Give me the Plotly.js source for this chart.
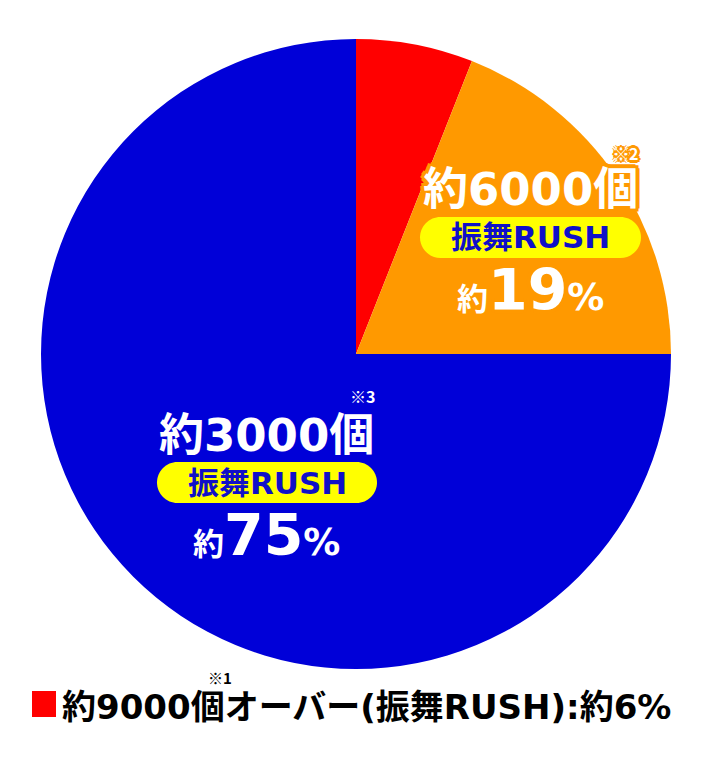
<!DOCTYPE html>
<html>
<head>
<meta charset="utf-8">
<script src="https://cdn.plot.ly/plotly-3.0.1.min.js"></script>
<style>
  html, body { margin: 0; padding: 0; background: #ffffff; }
  #chart { width: 712px; height: 762px; }
</style>
</head>
<body>
<div id="chart"></div>
<script>
// datos del gráfico
const categorias = ['約9000個オーバー(振舞RUSH)', '約6000個 振舞RUSH', '約3000個 振舞RUSH'];
const porcentajes = [6, 19, 75];
const cantidades = [9000, 6000, 3000];
const notas = ['※1', '※2', '※3'];
const modo = '振舞RUSH';
const coloresSector = ['#FF0000', '#FF9900', '#0000D8'];

const W = 712, H = 762;
const px = x => x / W;
const py = y => 1 - y / H;
const FUENTE = 'DejaVu Sans, Noto Sans CJK JP, sans-serif';
const FUENTE_NOTA = 'Noto Sans CJK JP, DejaVu Sans, sans-serif';

// contorno del texto (sombra en varias direcciones)
function contorno(color, d) {
    const s = [];
    [[d,0],[-d,0],[0,d],[0,-d],[d-1,d-1],[1-d,d-1],[d-1,1-d],[1-d,1-d]].forEach(p => {
        s.push(`${p[0]}px ${p[1]}px 0 ${color}`);
    });
    return s.join(', ');
}

// píldora amarilla con esquinas redondas
function pildora(x0, y0, x1, y1) {
    const r = (y1 - y0) / 2, k = r * 0.5523, ym = (y0 + y1) / 2;
    const P = (x, y) => `${px(x)},${py(y)}`;
    return `M ${P(x0 + r, y0)} L ${P(x1 - r, y0)} ` +
        `C ${P(x1 - r + k, y0)} ${P(x1, ym - k)} ${P(x1, ym)} ` +
        `C ${P(x1, ym + k)} ${P(x1 - r + k, y1)} ${P(x1 - r, y1)} ` +
        `L ${P(x0 + r, y1)} ` +
        `C ${P(x0 + r - k, y1)} ${P(x0, ym + k)} ${P(x0, ym)} ` +
        `C ${P(x0, ym - k)} ${P(x0 + r - k, y0)} ${P(x0 + r, y0)} Z`;
}

const trazas = [{
    type: 'pie',
    labels: categorias,
    values: porcentajes,
    sort: false,
    direction: 'clockwise',
    rotation: 0,
    textinfo: 'none',
    hoverinfo: 'none',
    marker: { colors: coloresSector, line: { width: 0 } },
    domain: { x: [px(41), px(671)], y: [py(669), py(39)] },
    showlegend: false
}];

// etiquetas de los sectores
function etiquetas(i, cx, yCant, yPct, sombra) {
    return [
        {
            x: px(cx), y: py(yCant), xref: 'paper', yref: 'paper',
            xanchor: 'center', yanchor: 'middle', showarrow: false,
            text: `約${cantidades[i]}個`,
            font: { family: FUENTE, size: 45, color: '#ffffff', weight: 'bold', shadow: sombra }
        },
        {
            x: px(cx), y: py(yPct), xref: 'paper', yref: 'paper',
            xanchor: 'center', yanchor: 'middle', showarrow: false,
            text: `<span style="font-size:31px">約</span>${porcentajes[i]}<span style="font-size:37px">%</span>`,
            font: { family: FUENTE, size: 57, color: '#ffffff', weight: 'bold', shadow: sombra }
        }
    ];
}

const sombraNaranja = contorno(coloresSector[1], 4);

const anotaciones = [
    ...etiquetas(1, 530, 189, 290, sombraNaranja),
    ...etiquetas(2, 266, 435, 535, 'none'),
    {
        x: px(530.5), y: py(237.5), xref: 'paper', yref: 'paper',
        xanchor: 'center', yanchor: 'middle', showarrow: false,
        text: modo,
        font: { family: FUENTE, size: 31, color: '#1010C8', weight: 'bold' }
    },
    {
        x: px(267), y: py(482.5), xref: 'paper', yref: 'paper',
        xanchor: 'center', yanchor: 'middle', showarrow: false,
        text: modo,
        font: { family: FUENTE, size: 31, color: '#1010C8', weight: 'bold' }
    },
    {
        x: px(625), y: py(153), xref: 'paper', yref: 'paper',
        xanchor: 'center', yanchor: 'middle', showarrow: false,
        text: notas[1],
        font: { family: FUENTE_NOTA, size: 16, color: '#ffffff', weight: 'bold', shadow: contorno(coloresSector[1], 3) }
    },
    {
        x: px(362), y: py(396), xref: 'paper', yref: 'paper',
        xanchor: 'center', yanchor: 'middle', showarrow: false,
        text: notas[2],
        font: { family: FUENTE_NOTA, size: 16, color: '#ffffff', weight: 'bold' }
    },
    // leyenda inferior
    {
        x: px(60), y: py(707), xref: 'paper', yref: 'paper',
        xanchor: 'left', yanchor: 'middle', showarrow: false,
        text: `約${cantidades[0]}個オーバー(${modo}):約${porcentajes[0]}%`,
        font: { family: FUENTE, size: 34, color: '#000000', weight: 'bold' }
    },
    {
        x: px(220), y: py(677), xref: 'paper', yref: 'paper',
        xanchor: 'center', yanchor: 'middle', showarrow: false,
        text: notas[0],
        font: { family: FUENTE_NOTA, size: 15, color: '#000000', weight: 'bold' }
    }
];

const formas = [
    {
        type: 'path', xref: 'paper', yref: 'paper',
        path: pildora(420, 217, 641, 258),
        fillcolor: '#FFFF00', line: { width: 0 }
    },
    {
        type: 'path', xref: 'paper', yref: 'paper',
        path: pildora(157, 462, 377, 503),
        fillcolor: '#FFFF00', line: { width: 0 }
    },
    {
        type: 'rect', xref: 'paper', yref: 'paper',
        x0: px(32), x1: px(56), y0: py(717), y1: py(691),
        fillcolor: coloresSector[0], line: { width: 0 }
    }
];

const layout = {
    width: W,
    height: H,
    margin: { l: 0, r: 0, t: 0, b: 0 },
    paper_bgcolor: '#ffffff',
    plot_bgcolor: '#ffffff',
    showlegend: false,
    annotations: anotaciones,
    shapes: formas
};

Plotly.newPlot('chart', trazas, layout, { displayModeBar: false, staticPlot: true });
</script>
</body>
</html>
